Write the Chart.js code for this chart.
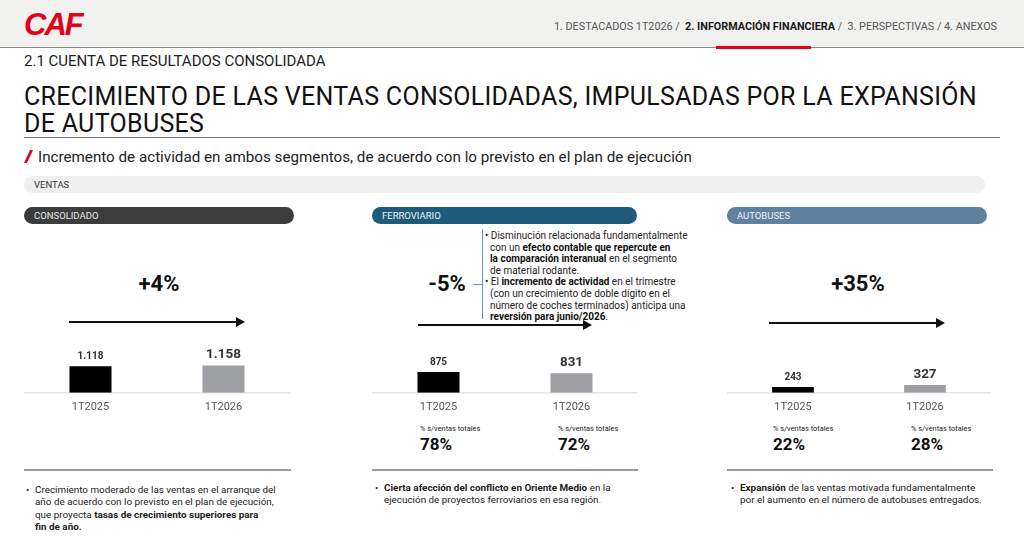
<!DOCTYPE html>
<html>
<head>
<meta charset="utf-8">
<script src="https://cdn.jsdelivr.net/npm/chart.js@4.4.1/dist/chart.umd.min.js"></script>
<style>
  html, body { margin: 0; padding: 0; }
  body { width: 1024px; height: 546px; position: relative; overflow: hidden; background: #fff; font-family: Roboto, "Noto Sans", sans-serif; color: #222; }
  .abs { position: absolute; }
  #header { left: 0; top: 0; width: 1024px; height: 47px; background: #f1f1f0; border-bottom: 1px solid #8a8a8a; }
  #logo { left: 24px; top: 7px; font: italic 900 31px "Liberation Sans", Arial, sans-serif; color: #e2001a; letter-spacing: -2px; }
  #nav { right: 27px; top: 20px; font-size: 10.8px; color: #555; white-space: nowrap; }
  #nav b { color: #1a1a1a; }
  #navline { left: 716px; top: 46px; width: 95px; height: 3px; background: #e2001a; }
  #section { left: 24px; top: 52px; font-size: 15px; color: #222; white-space: nowrap; }
  #title { left: 24px; top: 83px; font-size: 25px; letter-spacing: 0.3px; line-height: 27px; color: #111; white-space: nowrap; }
  #titleline { left: 24px; top: 137px; width: 976px; height: 1px; background: #7a7a7a; }
  #subtitle { left: 24px; top: 148px; font-size: 15.2px; color: #222; white-space: nowrap; }
  #subtitle i { display: inline-block; width: 3px; height: 13px; background: #e2001a; transform: skewX(-25deg); margin: 0 8px 0 3px; vertical-align: -1px; }
  .pill { height: 17px; border-radius: 9px; font-size: 9.5px; line-height: 17px; padding-left: 10px; box-sizing: border-box; }
  #ventas { left: 24px; top: 176px; width: 961px; background: #efefef; color: #333; }
  .pct { font-weight: 700; font-size: 22px; color: #111; transform: translateX(-50%); }
  .arrow { height: 2px; background: #111; }
  .arrow::after { content: ""; position: absolute; right: -2px; top: -4px; border-left: 9px solid #111; border-top: 5px solid transparent; border-bottom: 5px solid transparent; }
  .note { font-size: 10px; line-height: 11.6px; color: #222; white-space: nowrap; }
  .note b { color: #111; }
  .share-lbl { font-size: 7.4px; color: #222; white-space: nowrap; }
  .share { font-size: 17px; font-weight: 700; color: #111; }
  .rule { height: 2px; background: #9a9a9a; }
  .bullet { font-size: 9.9px; line-height: 12.3px; color: #222; white-space: nowrap; padding-left: 9px; }
  .bullet::before { content: "\2022"; position: absolute; left: 0; }
  canvas { position: absolute; }
</style>
</head>
<body>
<div id="header" class="abs"></div>
<div id="logo" class="abs">CAF</div>
<div id="nav" class="abs">1. DESTACADOS 1T2026 / &nbsp;<b>2. INFORMACIÓN FINANCIERA</b> / &nbsp;3. PERSPECTIVAS / 4. ANEXOS</div>
<div id="navline" class="abs"></div>

<div id="section" class="abs">2.1 CUENTA DE RESULTADOS CONSOLIDADA</div>
<div id="title" class="abs">CRECIMIENTO DE LAS VENTAS CONSOLIDADAS, IMPULSADAS POR LA EXPANSIÓN<br>DE AUTOBUSES</div>
<div id="titleline" class="abs"></div>
<div id="subtitle" class="abs"><i></i>Incremento de actividad en ambos segmentos, de acuerdo con lo previsto en el plan de ejecución</div>
<div id="ventas" class="abs pill">VENTAS</div>

<div class="abs pill" style="left:24px;top:207px;width:270px;background:#3c3c3c;color:#e6e6e6;">CONSOLIDADO</div>
<div class="abs pill" style="left:372px;top:207px;width:265px;background:#1e5b7b;color:#eef3f6;">FERROVIARIO</div>
<div class="abs pill" style="left:727px;top:207px;width:260px;background:#5e819f;color:#eef3f6;">AUTOBUSES</div>

<div id="pct0" class="abs pct" style="left:159px;top:271px;"></div>
<div id="pct1" class="abs pct" style="left:447px;top:271px;"></div>
<div id="pct2" class="abs pct" style="left:858px;top:271px;"></div>

<div class="abs arrow" style="left:69px;top:321px;width:174px;"></div>
<div class="abs arrow" style="left:418px;top:324px;width:172px;"></div>
<div class="abs arrow" style="left:769px;top:322px;width:174px;"></div>

<div class="abs" style="left:482px;top:229px;width:1px;height:90px;background:#6b93a8;"></div>
<div class="abs" style="left:473px;top:284px;width:9px;height:1px;background:#6b93a8;"></div>
<div class="abs note" style="left:485px;top:230px;">
  • Disminución relacionada fundamentalmente<br>
  &nbsp;&nbsp;con un <b>efecto contable que repercute en</b><br>
  &nbsp;&nbsp;<b>la comparación interanual</b> en el segmento<br>
  &nbsp;&nbsp;de material rodante.<br>
  • El <b>incremento de actividad</b> en el trimestre<br>
  &nbsp;&nbsp;(con un crecimiento de doble dígito en el<br>
  &nbsp;&nbsp;número de coches terminados) anticipa una<br>
  &nbsp;&nbsp;<b>reversión para junio/2026</b>.
</div>

<canvas id="c0" width="266" height="86" style="left:24px;top:336px;"></canvas>
<canvas id="c1" width="266" height="86" style="left:372px;top:336px;"></canvas>
<canvas id="c2" width="264" height="86" style="left:727px;top:336px;"></canvas>

<div class="abs share-lbl" style="left:420px;top:424px;">% s/ventas totales</div>
<div id="sh10" class="abs share" style="left:420px;top:434px;"></div>
<div class="abs share-lbl" style="left:558px;top:424px;">% s/ventas totales</div>
<div id="sh11" class="abs share" style="left:558px;top:434px;"></div>
<div class="abs share-lbl" style="left:773px;top:424px;">% s/ventas totales</div>
<div id="sh20" class="abs share" style="left:773px;top:434px;"></div>
<div class="abs share-lbl" style="left:911px;top:424px;">% s/ventas totales</div>
<div id="sh21" class="abs share" style="left:911px;top:434px;"></div>

<div class="abs rule" style="left:24px;top:469px;width:267px;"></div>
<div class="abs rule" style="left:372px;top:469px;width:266px;"></div>
<div class="abs rule" style="left:727px;top:469px;width:266px;"></div>

<div class="abs bullet" style="left:26px;top:484px;">Crecimiento moderado de las ventas en el arranque del<br>año de acuerdo con lo previsto en el plan de ejecución,<br>que proyecta <b>tasas de crecimiento superiores para</b><br><b>fin de año.</b></div>
<div class="abs bullet" style="left:375px;top:482px;"><b>Cierta afección del conflicto en Oriente Medio</b> en la<br>ejecución de proyectos ferroviarios en esa región.</div>
<div class="abs bullet" style="left:731px;top:482px;"><b>Expansión</b> de las ventas motivada fundamentalmente<br>por el aumento en el número de autobuses entregados.</div>

<script>
// Ventas por segmento (millones de euros)
const periods = ['1T2025', '1T2026'];
const consolidado = [1118, 1158];
const ferroviario = [875, 831];
const autobuses = [243, 327];

// Variación interanual y peso sobre ventas totales
const variation = ['+4%', '-5%', '+35%'];
const shareFerroviario = [78, 72];
const shareAutobuses = [22, 28];

const barColors = ['#000000', '#9d9fa2'];
const Y_MAX = 2400;

variation.forEach((v, i) => { document.getElementById('pct' + i).textContent = v; });
shareFerroviario.forEach((v, i) => { document.getElementById('sh1' + i).textContent = v + '%'; });
shareAutobuses.forEach((v, i) => { document.getElementById('sh2' + i).textContent = v + '%'; });

function fmt(n) {
    return n.toString().replace(/\B(?=(\d{3})+(?!\d))/g, '.');
}

// value labels on top of each bar, the latest one bigger
const valueLabels = {
    id: 'valueLabels',
    afterDatasetsDraw(chart) {
        const ctx = chart.ctx;
        const meta = chart.getDatasetMeta(0);
        ctx.save();
        ctx.fillStyle = '#333';
        ctx.textAlign = 'center';
        ctx.textBaseline = 'bottom';
        meta.data.forEach((bar, i) => {
            ctx.font = i === 0 ? 'bold 10px Roboto' : 'bold 13.5px Roboto';
            ctx.fillText(fmt(chart.data.datasets[0].data[i]), bar.x, bar.y - (i === 0 ? 5 : 4));
        });
        ctx.restore();
    }
};

function makeChart(id, values) {
    return new Chart(document.getElementById(id).getContext('2d'), {
        type: 'bar',
        data: {
            labels: periods,
            datasets: [{
                data: values,
                backgroundColor: barColors,
                barPercentage: 0.316,
                categoryPercentage: 1,
            }],
        },
        options: {
            responsive: false,
            animation: false,
            layout: { padding: 0 },
            plugins: { legend: { display: false }, tooltip: { enabled: false } },
            scales: {
                x: {
                    grid: { display: false, drawTicks: false, tickLength: 0 },
                    border: { color: '#e4e4e4', width: 1.5 },
                    ticks: { color: '#555', font: { family: 'Roboto', size: 11 }, padding: 8 },
                },
                y: { display: false, min: 0, max: Y_MAX },
            },
        },
        plugins: [valueLabels],
    });
}

makeChart('c0', consolidado);
makeChart('c1', ferroviario);
makeChart('c2', autobuses);
</script>
</body>
</html>
